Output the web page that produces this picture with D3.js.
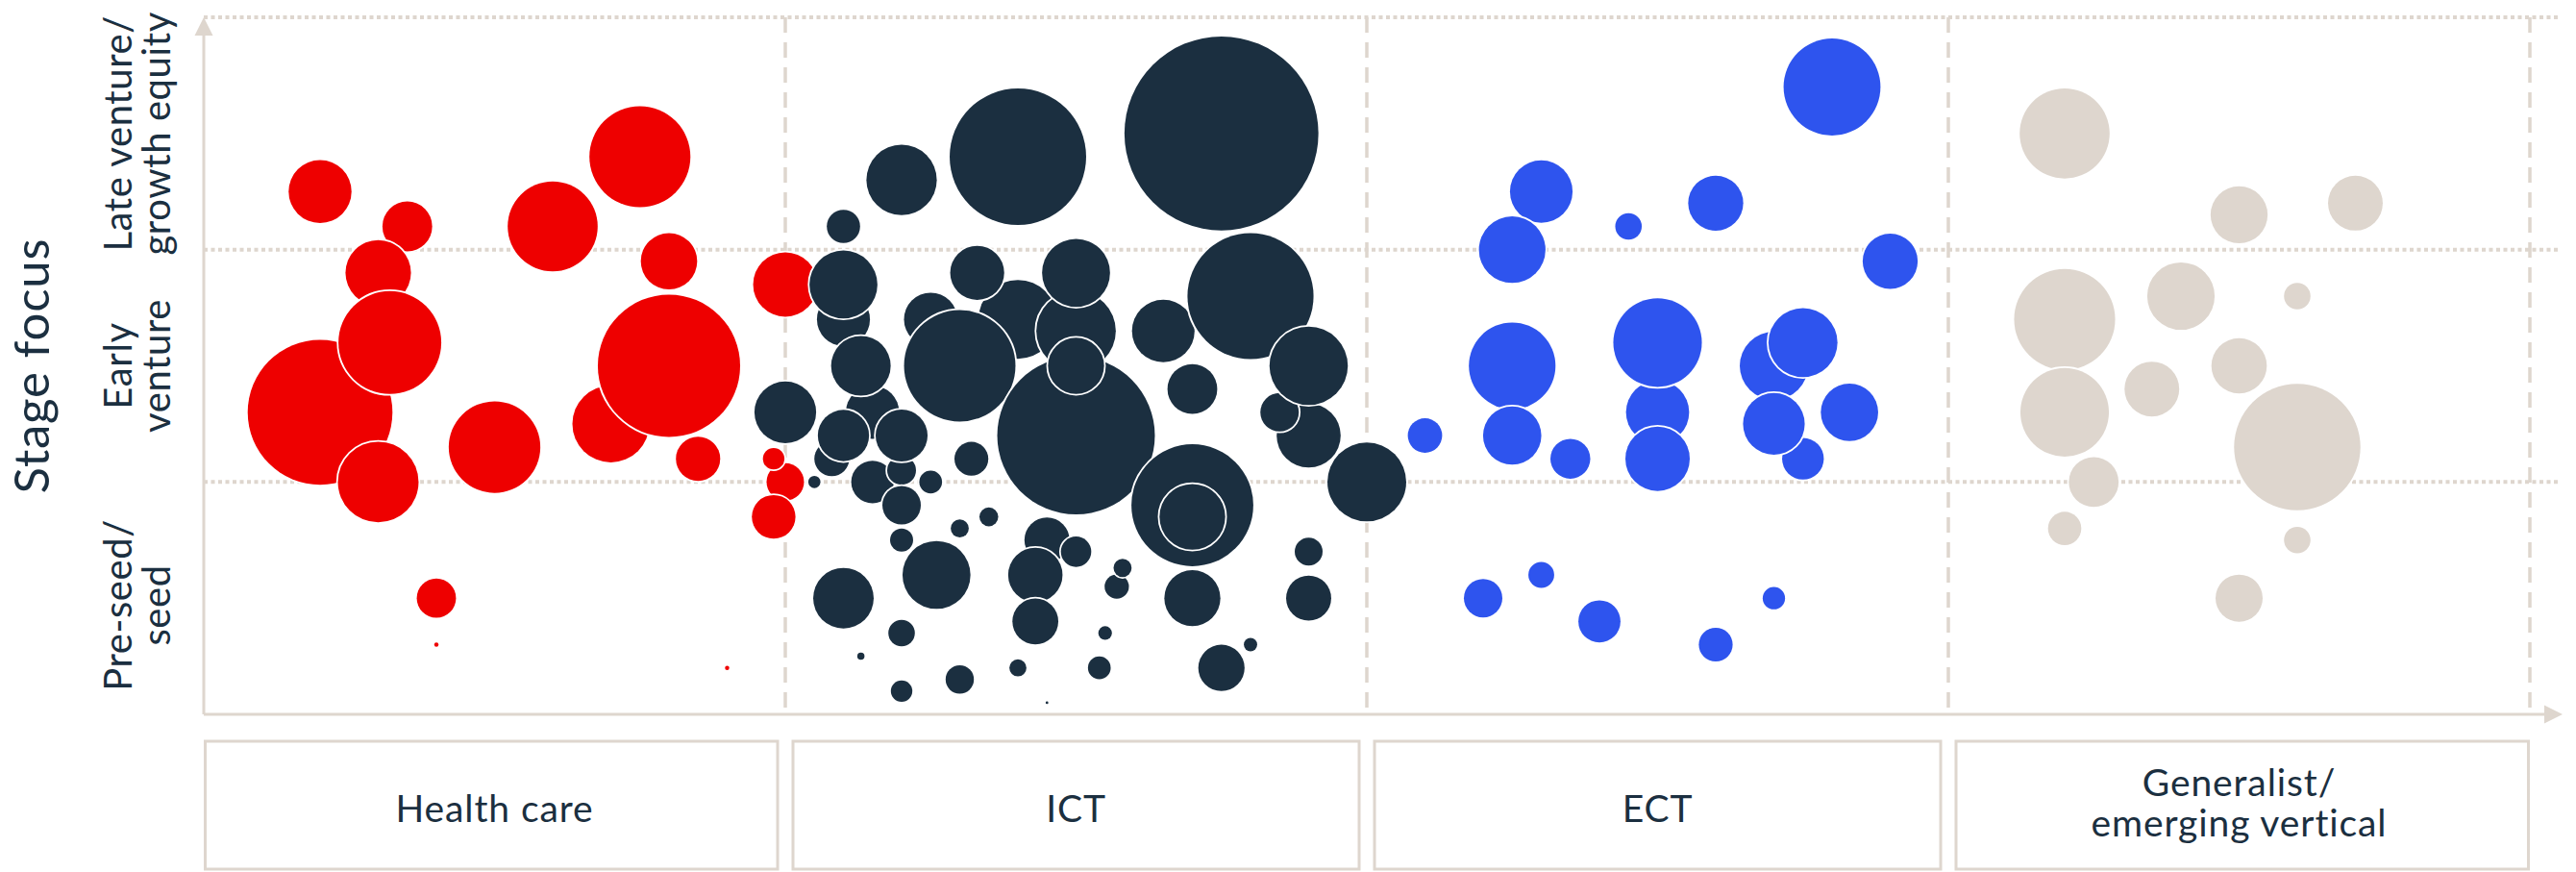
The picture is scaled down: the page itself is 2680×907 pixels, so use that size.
<!DOCTYPE html>
<html>
<head>
<meta charset="utf-8">
<script src="https://cdn.jsdelivr.net/npm/d3@7"></script>
<style>
  html, body { margin: 0; padding: 0; background: #ffffff; }
  svg { display: block; font-family: Lato, "Noto Sans", sans-serif; }
</style>
</head>
<body>
<svg id="chart" width="2680" height="907"></svg>
<script>
// ---- data -------------------------------------------------------------
const sectors = ["Health care", "ICT", "ECT", "Generalist/\nemerging vertical"];
const stageLabels = ["Pre-seed/\nseed", "Early\nventure", "Late venture/\ngrowth equity"];
const axisTitle = "Stage focus";
const sectorColors = ["#EE0000", "#1B2F40", "#2E54EE", "#DED6CE"];

// each fund: [position within its sector (0-1), stage score (0-3), fund size]
const healthCare = [
  [0.20, 2.25, 107], [0.35, 2.10, 67], [0.30, 1.90, 116], [0.60, 2.10, 219],
  [0.75, 2.40, 276], [0.80, 1.95, 86], [1.00, 1.85, 112], [0.20, 1.30, 567],
  [0.32, 1.60, 286], [0.30, 1.00, 176], [0.50, 1.15, 227], [0.70, 1.25, 160],
  [0.80, 1.50, 548], [0.85, 1.10, 53], [1.00, 1.00, 38], [0.98, 1.10, 12.5],
  [0.98, 0.85, 51.5], [0.40, 0.50, 41.6], [0.40, 0.30, 0.5], [0.90, 0.20, 0.5]
];
const ict = [
  [0.75, 2.50, 1018], [0.40, 2.40, 504], [0.20, 2.30, 134], [0.10, 2.10, 30],
  [0.10, 1.70, 76], [0.10, 1.85, 125], [0.00, 1.30, 103], [0.25, 1.70, 77],
  [0.40, 1.70, 168], [0.33, 1.90, 79], [0.50, 1.65, 171], [0.50, 1.90, 125],
  [0.30, 1.50, 336], [0.50, 1.20, 672], [0.50, 1.50, 85], [0.65, 1.65, 106],
  [0.80, 1.80, 430], [0.70, 1.40, 67], [0.90, 1.20, 111], [0.85, 1.30, 40],
  [0.90, 1.50, 166], [1.00, 1.00, 168], [0.70, 0.90, 402], [0.70, 0.85, 117],
  [0.08, 1.10, 33], [0.15, 1.30, 77], [0.15, 1.00, 49], [0.20, 1.05, 22.5],
  [0.13, 1.50, 96], [0.10, 1.20, 71], [0.20, 1.20, 73], [0.20, 0.90, 40],
  [0.05, 1.00, 4], [0.25, 1.00, 14], [0.32, 1.10, 31], [0.20, 0.75, 14.4],
  [0.30, 0.80, 8.8], [0.35, 0.85, 9.6], [0.10, 0.50, 99], [0.26, 0.60, 125],
  [0.45, 0.75, 55], [0.43, 0.60, 80], [0.50, 0.70, 25], [0.43, 0.40, 57],
  [0.57, 0.55, 16], [0.58, 0.63, 8.8], [0.70, 0.50, 85], [0.90, 0.70, 21],
  [0.90, 0.50, 55], [0.20, 0.35, 19], [0.55, 0.35, 5], [0.80, 0.30, 4.8],
  [0.13, 0.25, 1.4], [0.40, 0.20, 7.9], [0.54, 0.20, 14], [0.75, 0.20, 58],
  [0.30, 0.15, 21.6], [0.20, 0.10, 12.5], [0.45, 0.05, 0.2]
];
const ect = [
  [0.80, 2.70, 254], [0.30, 2.25, 106], [0.25, 2.00, 120], [0.45, 2.10, 19],
  [0.60, 2.20, 82], [0.90, 1.95, 82], [0.25, 1.50, 203], [0.25, 1.20, 92],
  [0.10, 1.20, 32], [0.35, 1.10, 43], [0.50, 1.30, 108], [0.50, 1.60, 212],
  [0.50, 1.10, 112], [0.70, 1.50, 126], [0.75, 1.60, 129], [0.75, 1.10, 47],
  [0.70, 1.25, 103], [0.83, 1.30, 89], [0.20, 0.50, 40], [0.30, 0.60, 18],
  [0.40, 0.40, 48], [0.60, 0.30, 31], [0.70, 0.50, 13.5]
];
const generalist = [
  [0.20, 2.50, 219], [0.50, 2.15, 88], [0.70, 2.20, 81], [0.20, 1.70, 276],
  [0.40, 1.80, 123], [0.60, 1.80, 19], [0.20, 1.30, 212], [0.35, 1.40, 81],
  [0.50, 1.50, 83], [0.60, 1.15, 432], [0.25, 1.00, 67], [0.20, 0.80, 30],
  [0.60, 0.75, 19], [0.50, 0.50, 60]
];
const sectorFunds = [healthCare, ict, ect, generalist];

// ---- scales -----------------------------------------------------------
const svg = d3.select("#chart");
const grid = "#DED6CE";
const ink = "#1B2F40";

const x = d3.scaleLinear().domain([0, sectors.length]).range([212, 2632]);
const y = d3.scaleLinear().domain([0, stageLabels.length]).range([743, 18]);
const r = d3.scaleSqrt().domain([0, 1000]).range([0, 100]);

// ---- grid -------------------------------------------------------------
const gridG = svg.append("g");
gridG.selectAll("line.h")
  .data(d3.range(1, stageLabels.length + 1))
  .join("line")
  .attr("x1", x(0)).attr("x2", x(sectors.length) + 31)
  .attr("y1", d => y(d)).attr("y2", d => y(d))
  .attr("stroke", grid).attr("stroke-width", 4)
  .attr("stroke-dasharray", "4 3.5");

gridG.selectAll("line.v")
  .data(d3.range(1, sectors.length + 1))
  .join("line")
  .attr("x1", d => x(d)).attr("x2", d => x(d))
  .attr("y1", y(stageLabels.length)).attr("y2", y(0))
  .attr("stroke", grid).attr("stroke-width", 3.5)
  .attr("stroke-dasharray", "16 10");

// ---- axes with arrowheads ----------------------------------------------
const axisG = svg.append("g");
axisG.append("line")
  .attr("x1", x(0)).attr("x2", x(0))
  .attr("y1", y(0)).attr("y2", y(stageLabels.length) + 16)
  .attr("stroke", grid).attr("stroke-width", 3);
axisG.append("path")
  .attr("d", `M${x(0)},${y(stageLabels.length)} L${x(0) + 9.5},${y(stageLabels.length) + 19} L${x(0) - 9.5},${y(stageLabels.length) + 19} Z`)
  .attr("fill", grid);
axisG.append("line")
  .attr("x1", x(0)).attr("x2", x(sectors.length) + 18)
  .attr("y1", y(0)).attr("y2", y(0))
  .attr("stroke", grid).attr("stroke-width", 3);
axisG.append("path")
  .attr("d", `M${x(sectors.length) + 34},${y(0)} L${x(sectors.length) + 15},${y(0) - 9.5} L${x(sectors.length) + 15},${y(0) + 9.5} Z`)
  .attr("fill", grid);

// ---- bubbles ------------------------------------------------------------
sectorFunds.forEach((funds, i) => {
  svg.append("g")
    .selectAll("circle")
    .data(funds)
    .join("circle")
    .attr("cx", d => x(i + d[0]))
    .attr("cy", d => y(d[1]))
    .attr("r", d => r(d[2]))
    .attr("fill", sectorColors[i])
    .attr("stroke", "#ffffff")
    .attr("stroke-width", 3.5)
    .style("paint-order", "stroke");
});

// ---- sector boxes (category axis) ---------------------------------------
const boxTop = 771, boxBottom = 904, inset = 8;
const boxes = svg.append("g")
  .selectAll("g")
  .data(sectors)
  .join("g");
boxes.append("rect")
  .attr("x", (d, i) => x(i) + (i > 0 ? inset : 1.5))
  .attr("y", boxTop)
  .attr("width", (d, i) => x(i + 1) - x(i) - (i > 0 ? inset : 1.5) - (i < sectors.length - 1 ? inset : 1.5))
  .attr("height", boxBottom - boxTop)
  .attr("fill", "#ffffff")
  .attr("stroke", grid)
  .attr("stroke-width", 3);
boxes.each(function (d, i) {
  const lines = d.split("\n");
  const lineGap = 42;
  const first = 855 - (lines.length - 1) * 27;
  lines.forEach((line, k) => {
    d3.select(this).append("text")
      .attr("x", x(i + 0.5))
      .attr("y", first + k * lineGap)
      .attr("text-anchor", "middle")
      .attr("fill", ink)
      .attr("font-size", 39)
      .attr("letter-spacing", 0.9)
      .text(line);
  });
});

// ---- stage labels (rotated) ---------------------------------------------
const stageCentres = [0.47, 1.5, 2.5];
stageLabels.forEach((label, i) => {
  const lines = label.split("\n");
  const t = svg.append("text")
    .attr("transform", `translate(137,${y(stageCentres[i])}) rotate(-90)`)
    .attr("text-anchor", "middle")
    .attr("fill", ink)
    .attr("font-size", 40)
    .attr("letter-spacing", 0.6);
  lines.forEach((line, k) => {
    t.append("tspan").attr("x", 0).attr("y", k * 40).text(line);
  });
});

svg.append("text")
  .attr("transform", `translate(51,${y(1.5)}) rotate(-90)`)
  .attr("text-anchor", "middle")
  .attr("fill", ink)
  .attr("font-size", 51)
  .attr("letter-spacing", 0.8)
  .text(axisTitle);
</script>
</body>
</html>
